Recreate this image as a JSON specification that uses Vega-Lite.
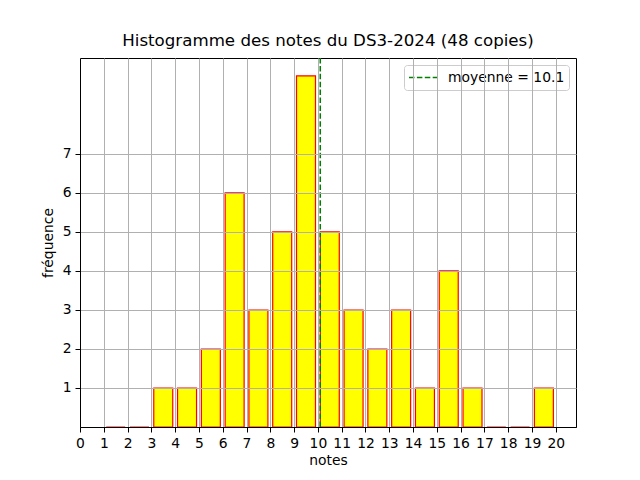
{
  "$schema": "https://vega.github.io/schema/vega-lite/v6.json",
  "width": 496,
  "height": 369,
  "autosize": {"type": "none"},
  "padding": {"left": 80, "top": 58, "right": 64, "bottom": 53},
  "background": "white",
  "title": {
    "text": "Histogramme des notes du DS3-2024 (48 copies)",
    "font": "DejaVu Sans",
    "fontSize": 16.67,
    "fontWeight": "normal",
    "color": "black",
    "offset": 8,
    "anchor": "middle"
  },
  "config": {
    "view": {"stroke": "black", "strokeWidth": 1},
    "axis": {
      "labelFont": "DejaVu Sans",
      "titleFont": "DejaVu Sans",
      "labelFontSize": 13.89,
      "titleFontSize": 13.89,
      "titleFontWeight": "normal",
      "labelColor": "black",
      "titleColor": "black",
      "domainColor": "black",
      "domainWidth": 1,
      "tickColor": "black",
      "tickSize": 5,
      "tickWidth": 1,
      "labelPadding": 4,
      "labelOverlap": false,
      "labelFlush": false,
      "gridColor": "#b0b0b0",
      "gridWidth": 1,
      "gridOpacity": 1
    }
  },
  "datasets": {
    "hist": [
      {"debut": 1, "fin": 2, "effectif": 0},
      {"debut": 2, "fin": 3, "effectif": 0},
      {"debut": 3, "fin": 4, "effectif": 1},
      {"debut": 4, "fin": 5, "effectif": 1},
      {"debut": 5, "fin": 6, "effectif": 2},
      {"debut": 6, "fin": 7, "effectif": 6},
      {"debut": 7, "fin": 8, "effectif": 3},
      {"debut": 8, "fin": 9, "effectif": 5},
      {"debut": 9, "fin": 10, "effectif": 9},
      {"debut": 10, "fin": 11, "effectif": 5},
      {"debut": 11, "fin": 12, "effectif": 3},
      {"debut": 12, "fin": 13, "effectif": 2},
      {"debut": 13, "fin": 14, "effectif": 3},
      {"debut": 14, "fin": 15, "effectif": 1},
      {"debut": 15, "fin": 16, "effectif": 4},
      {"debut": 16, "fin": 17, "effectif": 1},
      {"debut": 17, "fin": 18, "effectif": 0},
      {"debut": 18, "fin": 19, "effectif": 0},
      {"debut": 19, "fin": 20, "effectif": 1}
    ],
    "moy": [{"moyenne": 10.1, "label": "moyenne = 10.1"}]
  },
  "layer": [
    {
      "data": {"name": "hist"},
      "mark": {"type": "rect", "fill": "#ffff00", "stroke": "red", "strokeWidth": 1.2, "xOffset": 2.4, "x2Offset": -2.4},
      "encoding": {
        "x": {
          "field": "debut",
          "type": "quantitative",
          "scale": {"domain": [0, 20.85], "nice": false, "zero": false},
          "axis": {
            "title": "notes",
            "values": [0,1,2,3,4,5,6,7,8,9,10,11,12,13,14,15,16,17,18,19,20],
            "grid": true,
            "zindex": 1,
            "labelOverlap": false,
            "labelFlush": false,
            "tickCount": 21,
            "titlePadding": 4
          }
        },
        "x2": {"field": "fin"},
        "y": {
          "field": "effectif",
          "type": "quantitative",
          "scale": {"domain": [0, 9.46], "nice": false},
          "axis": {
            "title": "fréquence",
            "values": [1,2,3,4,5,6,7],
            "grid": true,
            "zindex": 1,
            "labelOverlap": false,
            "titlePadding": 7
          }
        },
        "y2": {"datum": 0}
      }
    },
    {
      "data": {"name": "moy"},
      "mark": {"type": "rule", "strokeWidth": 1.5, "strokeDash": [5.5, 2.4]},
      "encoding": {
        "x": {"field": "moyenne", "type": "quantitative"},
        "color": {
          "field": "label",
          "type": "nominal",
          "scale": {"range": ["green"]},
          "legend": {
            "title": null,
            "orient": "top-right",
            "offset": 7,
            "padding": 4,
            "strokeColor": "#cccccc",
            "fillColor": "white",
            "cornerRadius": 3,
            "symbolType": "stroke",
            "symbolStrokeWidth": 1.5,
            "symbolDash": [5.5, 2.4],
            "symbolSize": 784,
            "clipHeight": 17,
            "labelFont": "DejaVu Sans",
            "labelFontSize": 13.89,
            "labelColor": "black",
            "labelOffset": 10
          }
        }
      }
    }
  ]
}
